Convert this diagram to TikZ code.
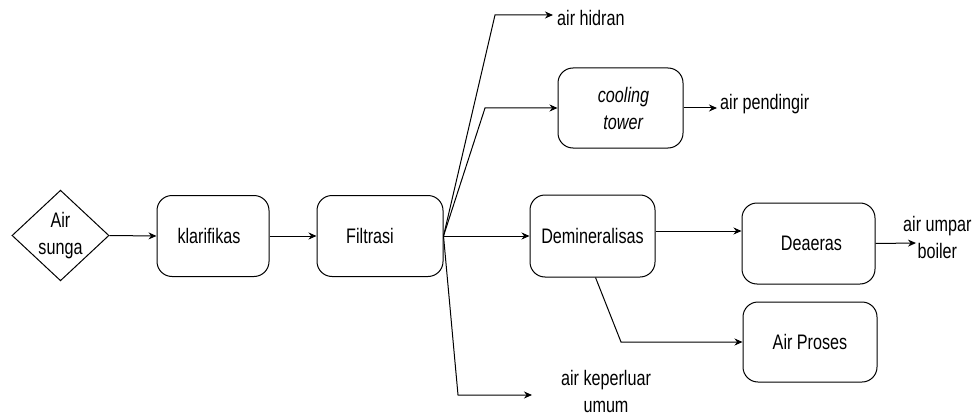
\documentclass[tikz,border=0pt]{standalone}
\usepackage{fontspec}
\setmainfont{Liberation Sans}[FakeStretch=0.77]
\usetikzlibrary{shapes.geometric,arrows.meta}
\begin{document}
\begin{tikzpicture}[x=1pt,y=-1pt,
  lbl/.style={font=\fontsize{21}{27}\selectfont, align=center, inner sep=0pt},
  box/.style={lbl, draw, line width=1pt, rounded corners=15pt},
  arr/.style={line width=1pt, -{Stealth[length=8pt,width=7pt]}}]
\useasboundingbox (0,0) rectangle (976,417);
\node[lbl, draw, line width=1pt, shape=diamond, minimum width=97pt, minimum height=87pt] (sungai) at (60.5,235.5) {Air\\sunga};
\node[box, minimum width=112pt, minimum height=81pt] (klar) at (213,236) {klarifikas\hspace*{8pt}};
\node[box, minimum width=126pt, minimum height=81pt] (filt) at (380,236) {Filtrasi\hspace*{20pt}};
\node[box, minimum width=125pt, minimum height=82pt] (demin) at (592.5,236) {Demineralisas};
\node[box, minimum width=125pt, minimum height=80pt] (cool) at (620.5,108) {\hspace*{6pt}\textit{cooling}\\\hspace*{6pt}\textit{tower}};
\node[box, minimum width=133pt, minimum height=81pt] (deaer) at (808.5,243.5) {\hspace*{6pt}Deaeras};
\node[box, minimum width=134pt, minimum height=80pt] (proses) at (810,342) {Air Proses};
\node[lbl, anchor=west] (hidran) at (557,18) {air hidran};
\node[lbl, anchor=west] (pend) at (720,104) {air pendingir};
\node[lbl, anchor=west] (umpan) at (903,237) {air umpar\\boiler};
\node[lbl] (umum) at (606,391) {air keperluar\\umum};
\coordinate (hidA) at (553,15);
\coordinate (pendA) at (717,108);
\coordinate (umpA) at (916,243);
\coordinate (umumA) at (532,395);
\draw[arr] (sungai.east) -- (klar.west);
\draw[arr] (klar.east) -- (filt.west);
\draw[arr] (filt.east) -- (495,15) -- (hidA);
\draw[arr] (filt.east) -- (485,108) -- (cool.west);
\draw[arr] (filt.east) -- (demin.west);
\draw[arr] (filt.east) -- (458,395) -- (umumA);
\draw[arr] (cool.east) -- (pendA);
\draw[arr] ([yshift=5pt]demin.east) -- ([yshift=5pt]demin.east -| deaer.west);
\draw[arr] (deaer.east) -- (umpA);
\draw[arr] ([xshift=3pt]demin.south) -- (621,342) -- (proses.west);
\end{tikzpicture}
\end{document}
